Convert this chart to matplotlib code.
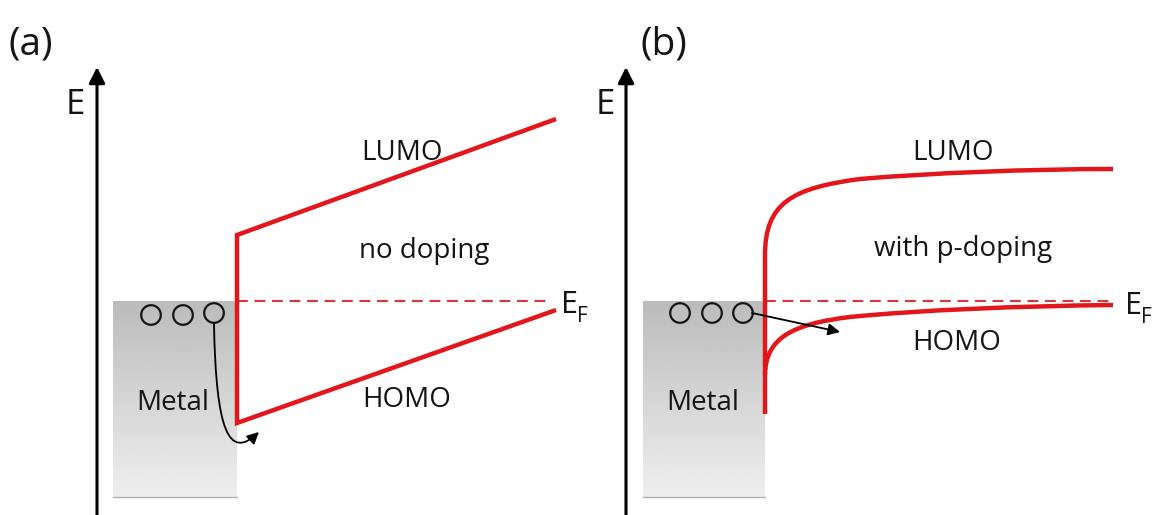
import numpy as np
import matplotlib
matplotlib.use("Agg")
import matplotlib.pyplot as plt
from matplotlib.path import Path
from matplotlib.patches import PathPatch, Circle, FancyArrowPatch

plt.rcParams['font.family'] = ['Open Sans', 'DejaVu Sans']

W, H = 1157, 515
RED = '#e3161b'
DASH_RED = '#d8383a'
INK = '#151515'
FS = 20

# ---- panel (a): rigid bands, no doping (x = position, y = level, screen units) ----
a_band_x = [556, 237, 237, 556]          # LUMO end -> interface -> HOMO end
a_band_y = [119, 235, 423, 310]
a_fermi_x = [237, 552]
a_fermi_y = [301, 301]
a_metal = dict(x0=113, x1=237, top=301, bottom=497)
a_holes_x = [151, 183, 214]
a_holes_y = [315, 315, 313]
a_axis_x = 97
# hole injection path (cubic Bezier control points)
a_inj_x = [214, 216, 229, 259]
a_inj_y = [324, 432, 460, 432]

# ---- panel (b): bent bands, with p-doping ----
b_lumo_x = [765, 765, 765, 792, 860, 930, 1030, 1113]
b_lumo_y = [414, 255, 203, 188, 179, 173, 169, 169]
b_homo_x = [765, 766, 792, 850, 920, 1020, 1113]
b_homo_y = [374, 338, 324, 317, 310, 306, 305]
b_fermi_x = [765, 1113]
b_fermi_y = [301, 301]
b_metal = dict(x0=643, x1=765, top=301, bottom=497)
b_holes_x = [680, 712, 743]
b_holes_y = [313, 313, 313]
b_axis_x = 626
b_inj_x = [752, 840]
b_inj_y = [313, 332]

fig = plt.figure(figsize=(W / 100, H / 100), dpi=100)
ax = fig.add_axes([0, 0, 1, 1])
ax.set_xlim(0, W)
ax.set_ylim(H, 0)
ax.axis('off')


def metal_block(m):
    grad = np.linspace(0.735, 0.935, 200).reshape(-1, 1)
    ax.imshow(grad, cmap='gray', vmin=0, vmax=1, aspect='auto',
              extent=(m['x0'], m['x1'], m['bottom'], m['top']),
              origin='upper', zorder=1, interpolation='bilinear')
    ax.plot([m['x0'], m['x1']], [m['bottom'], m['bottom']], color='#b0b0b0',
            lw=1.0, zorder=2)


def energy_axis(x):
    ax.annotate('', xy=(x, 67), xytext=(x, H + 2),
                arrowprops=dict(arrowstyle='-|>,head_length=0.6,head_width=0.3',
                                lw=2.2, color='black', mutation_scale=16,
                                shrinkA=0, shrinkB=0), zorder=5)


def holes(xs, ys):
    for x, y in zip(xs, ys):
        ax.add_patch(Circle((x, y), 9.8, facecolor='none', edgecolor=INK,
                            lw=1.6, zorder=6))


def bezier_path(xs, ys, first_line=False):
    verts = list(zip(xs, ys))
    codes = [Path.MOVETO]
    rest = len(verts) - 1
    if first_line:
        codes.append(Path.LINETO)
        rest -= 1
    codes += [Path.CURVE4] * rest
    return Path(verts, codes)


def label(x, y, s, size=FS, **kw):
    ax.text(x, y, s, fontsize=size, ha='left', va='baseline', color=INK, zorder=7, **kw)


def fermi_label(x, y):
    label(x, y, 'E', size=22)
    label(x + 16, y + 9, 'F', size=15)


# ---------- panel (a) ----------
metal_block(a_metal)
energy_axis(a_axis_x)
ax.plot(a_fermi_x, a_fermi_y, color=DASH_RED, lw=1.5, dashes=(5.2, 3.2), zorder=3)
ax.plot(a_band_x, a_band_y, color=RED, lw=3.2, solid_joinstyle='miter',
        solid_capstyle='butt', zorder=4)
holes(a_holes_x, a_holes_y)
ax.add_patch(FancyArrowPatch(path=bezier_path(a_inj_x, a_inj_y),
                             arrowstyle='-|>,head_length=0.5,head_width=0.25',
                             mutation_scale=14, lw=1.3, color='black', zorder=6))

ax.text(9, 44, '(a)', fontsize=28, ha='left', va='center', color=INK)
label(66, 114, 'E', size=25)
label(361, 160, 'LUMO')
label(359, 258, 'no doping')
label(362, 407, 'HOMO')
label(136, 410, 'Metal')
fermi_label(561, 313)

# ---------- panel (b) ----------
metal_block(b_metal)
energy_axis(b_axis_x)
ax.plot(b_fermi_x, b_fermi_y, color=DASH_RED, lw=1.5, dashes=(5.2, 3.2), zorder=3)
ax.add_patch(PathPatch(bezier_path(b_lumo_x, b_lumo_y, first_line=True),
                       facecolor='none', edgecolor=RED, lw=3.2, zorder=4,
                       capstyle='butt'))
ax.add_patch(PathPatch(bezier_path(b_homo_x, b_homo_y),
                       facecolor='none', edgecolor=RED, lw=3.2, zorder=4,
                       capstyle='butt'))
holes(b_holes_x, b_holes_y)
ax.add_patch(FancyArrowPatch((b_inj_x[0], b_inj_y[0]), (b_inj_x[1], b_inj_y[1]),
                             arrowstyle='-|>,head_length=0.5,head_width=0.25',
                             mutation_scale=14, lw=1.3, color='black',
                             shrinkA=0, shrinkB=0, zorder=6))

ax.text(640, 44, '(b)', fontsize=28, ha='left', va='center', color=INK)
label(596, 114, 'E', size=25)
label(912, 160, 'LUMO')
label(874, 256, 'with p-doping')
label(912, 350, 'HOMO')
label(666, 410, 'Metal')
fermi_label(1125, 314)

fig.savefig('out.png', dpi=100)
